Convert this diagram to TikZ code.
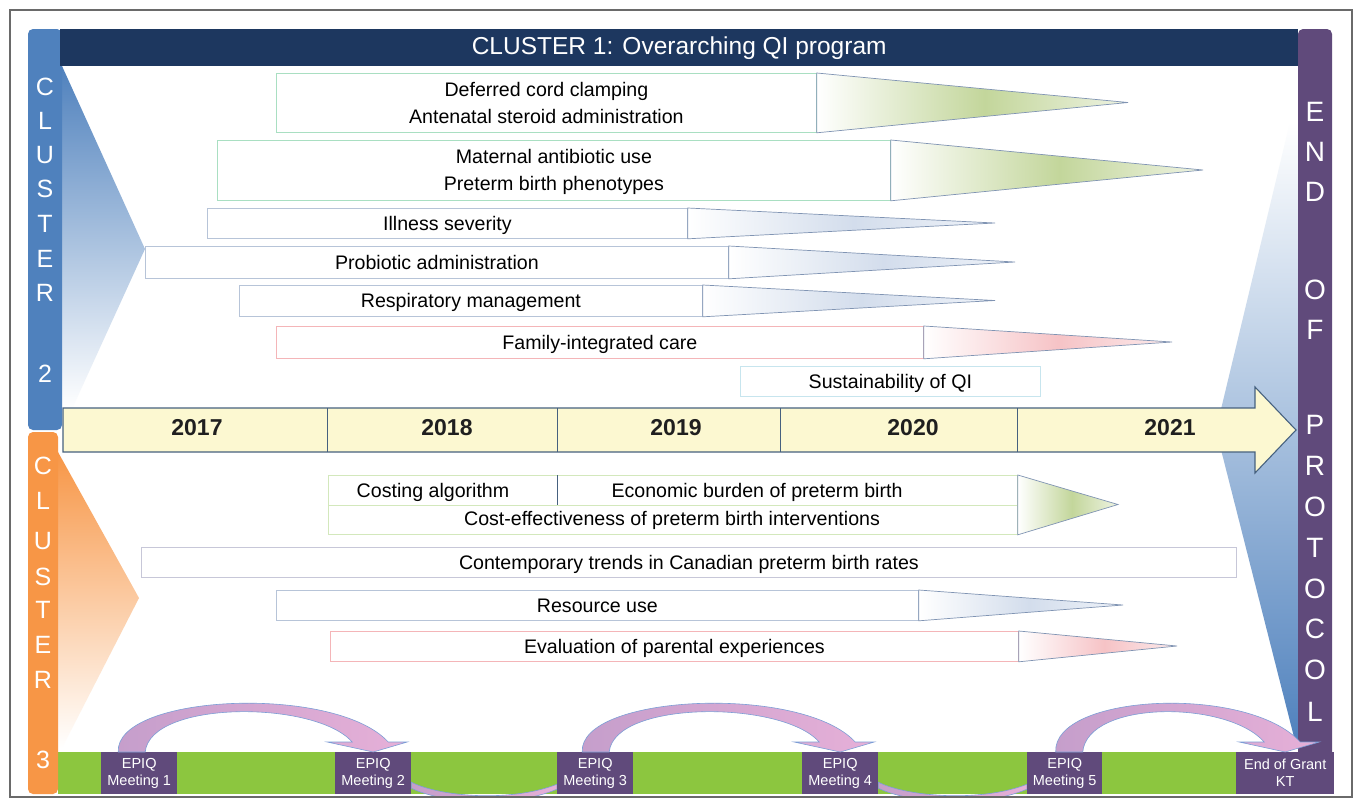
\documentclass[tikz,border=0pt]{standalone}
\usepackage{fontspec}
\setmainfont{Liberation Sans}
\usetikzlibrary{calc}

% palette
\definecolor{navy}{HTML}{1D375F}
\definecolor{cblue}{HTML}{4F81BD}
\definecolor{cbluemid}{HTML}{A6B8DA}
\definecolor{corange}{HTML}{F79646}
\definecolor{corangemid}{HTML}{F8C4A2}
\definecolor{epurple}{HTML}{604A7B}
\definecolor{gbar}{HTML}{8CC63F}
\definecolor{tlfill}{HTML}{FCF8D1}
\definecolor{tlline}{HTML}{46617F}
\definecolor{framegray}{HTML}{6A6A6A}
\definecolor{mintline}{HTML}{A9DFC2}
\definecolor{slateline}{HTML}{B7C4D8}
\definecolor{pinkline}{HTML}{F4B5B8}
\definecolor{cyanline}{HTML}{C7E5EE}
\definecolor{limeline}{HTML}{D3E8BC}
\definecolor{lilacline}{HTML}{C7C7D8}
\definecolor{triline}{HTML}{8094B3}
\definecolor{greenmid}{HTML}{C3D69B}
\definecolor{greentip}{HTML}{EEF3E2}
\definecolor{bluemid}{HTML}{D3DDEC}
\definecolor{bluetip}{HTML}{EFF3F9}
\definecolor{pinkmid}{HTML}{F6C3C6}
\definecolor{pinktip}{HTML}{FCEBEC}
\definecolor{arcA}{HTML}{C59ECB}
\definecolor{arcB}{HTML}{E6B0D8}
\definecolor{arcline}{HTML}{7C9ED6}

% fading wedges: pale at the bar, strongest midway, pale at the point
\pgfdeclarehorizontalshading{greenfade}{100bp}{color(0bp)=(white); color(25bp)=(white); color(52bp)=(greenmid); color(75bp)=(greentip); color(100bp)=(greentip)}
\pgfdeclarehorizontalshading{bluefade}{100bp}{color(0bp)=(white); color(25bp)=(white); color(52bp)=(bluemid); color(75bp)=(bluetip); color(100bp)=(bluetip)}
\pgfdeclarehorizontalshading{pinkfade}{100bp}{color(0bp)=(white); color(25bp)=(white); color(52bp)=(pinkmid); color(75bp)=(pinktip); color(100bp)=(pinktip)}

% drawing layers: page and meeting bar, arcs passing under the meetings, everything else
\pgfdeclarelayer{barlayer}
\pgfdeclarelayer{arclayer}
\pgfsetlayers{barlayer,arclayer,main}

\newcommand\fItem{\fontsize{19.6}{27}\selectfont}
\newcommand\fTitle{\fontsize{24.5}{28}\selectfont}
\newcommand\fYear{\fontsize{23}{26}\selectfont\bfseries}
\newcommand\fClu{\fontsize{25}{28}\selectfont}
\newcommand\fEnd{\fontsize{28}{30}\selectfont}
\newcommand\fMeet{\fontsize{14.5}{17}\selectfont}
% line strut that keeps every label line at the same height and depth
\newcommand\ist{\rule[-4.5pt]{0pt}{22.5pt}}

% arched arrow leaping from one meeting to the next
\newcommand\overArc[3]{%
  \shadedraw[arcstyle]
    ($(#1.north)+(#3,0)$)
    .. controls ($(#1.north)+(#3-3,-58)$) and ($(#2.north)+(-38,-68)$) .. ($(#2.north)+(15,-10)$)
    -- ($(#2.north)+(34,-10)$) -- (#2.north) -- ($(#2.north)+(-46,-10)$) -- ($(#2.north)+(-21,-10)$)
    .. controls ($(#2.north)+(-58,-52)$) and ($(#1.north)+(#3+32,-52)$) .. ($(#1.north)+(#3+27,0)$)
    -- cycle;}
% thin sliver of the arc passing under the bar
\newcommand\underArc[2]{%
  \shadedraw[arcstyle]
    ($(#1.east)+(0,9)$)
    .. controls ($(#1.east)+(30,24)$) and ($(#2.west)+(-45,29)$) .. ($(#2.west)+(0,11)$)
    -- ($(#2.west)+(0,16)$)
    .. controls ($(#2.west)+(-45,35)$) and ($(#1.east)+(30,30)$) .. ($(#1.east)+(0,15)$)
    -- cycle;}

\begin{document}
\begin{tikzpicture}[x=1pt,y=-1pt,
  itembox/.style={draw=#1, line width=0.8pt, fill=white, anchor=north west,
    inner sep=0pt, align=center, font=\fItem},
  tri/.style={shading=#1, draw=triline, line width=0.7pt, line join=miter},
  txt/.style={font=\fItem, inner sep=0pt},
  year/.style={font=\fYear, text=black!88, inner sep=0pt},
  clu/.style={font=\fClu, text=white, inner sep=0pt},
  endl/.style={font=\fEnd, text=white, inner sep=0pt},
  meet/.style={fill=epurple, text=white, font=\fMeet, align=center,
    anchor=north west, inner sep=0pt, minimum height=42pt},
  arcstyle/.style={left color=arcA, right color=arcB, draw=arcline, line width=0.6pt}]

\useasboundingbox (0,0) rectangle (1356,801);
\begin{pgfonlayer}{barlayer}
  \fill[white] (0,0) rectangle (1356,801);
  \fill[gbar] (58,752) rectangle (1333,794);
\end{pgfonlayer}

% ---- funnels fanning out of the side bars
\shade[top color=cblue, middle color=cbluemid, bottom color=white]
  (62,66) -- (145,249) -- (72,409) -- (62,409) -- cycle;
\shade[top color=corange, middle color=corangemid, bottom color=white]
  (58,452) -- (139,598) -- (62,748) -- (58,748) -- cycle;
\shade[top color=white, middle color=cbluemid, bottom color=cblue]
  (1298,122) -- (1290,122) -- (1216,430) -- (1296,745) -- (1298,745) -- cycle;

% ---- cluster 1 activities
\node[itembox=mintline, minimum width=540pt, minimum height=59pt] (b1) at (276,73)
  {\ist Deferred cord clamping\\\ist Antenatal steroid administration};
\coordinate (t1) at (1128,102.5);
\shadedraw[tri=greenfade] (b1.north east) -- (t1) -- (b1.south east) -- cycle;

\node[itembox=mintline, minimum width=673pt, minimum height=60pt] (b2) at (217,140)
  {\ist Maternal antibiotic use\\\ist Preterm birth phenotypes};
\coordinate (t2) at (1203,170);
\shadedraw[tri=greenfade] (b2.north east) -- (t2) -- (b2.south east) -- cycle;

\node[itembox=slateline, minimum width=480pt, minimum height=30pt] (b3) at (207,208)
  {\ist Illness severity};
\coordinate (t3) at (995,223);
\shadedraw[tri=bluefade] (b3.north east) -- (t3) -- (b3.south east) -- cycle;

\node[itembox=slateline, minimum width=583pt, minimum height=32pt] (b4) at (145,246)
  {\ist Probiotic administration};
\coordinate (t4) at (1015,262);
\shadedraw[tri=bluefade] (b4.north east) -- (t4) -- (b4.south east) -- cycle;

\node[itembox=slateline, minimum width=463pt, minimum height=31pt] (b5) at (239,285)
  {\ist Respiratory management};
\coordinate (t5) at (995,300.5);
\shadedraw[tri=bluefade] (b5.north east) -- (t5) -- (b5.south east) -- cycle;

\node[itembox=pinkline, minimum width=647pt, minimum height=32pt] (b6) at (276,326)
  {\ist Family-integrated care};
\coordinate (t6) at (1172,342);
\shadedraw[tri=pinkfade] (b6.north east) -- (t6) -- (b6.south east) -- cycle;

\node[itembox=cyanline, minimum width=300pt, minimum height=30pt] (b7) at (740,366)
  {\ist Sustainability of QI};

% ---- cluster 3 activities
\node[itembox=limeline, minimum width=689pt, minimum height=59pt] (b8) at (328,475) {};
\draw[limeline, line width=0.8pt] (b8.west) -- (b8.east);
\draw[tlline, line width=0.6pt] ($(b8.north west)+(229,0)$) -- ($(b8.west)+(229,0)$);
\node[txt] (cost) at (433,490.5) {\ist Costing algorithm};
\node[txt] (econ) at (757,490.5) {\ist Economic burden of preterm birth};
\node[txt] (ceff) at (672,519) {\ist Cost-effectiveness of preterm birth interventions};
\coordinate (t8) at (1118,504.5);
\shadedraw[tri=greenfade] (b8.north east) -- (t8) -- (b8.south east) -- cycle;

\node[itembox=lilacline, minimum width=1095pt, minimum height=30pt] (b9) at (141,547)
  {\ist Contemporary trends in Canadian preterm birth rates};

\node[itembox=slateline, minimum width=642pt, minimum height=30pt] (b10) at (276,590)
  {\ist Resource use};
\coordinate (t10) at (1123,605);
\shadedraw[tri=bluefade] (b10.north east) -- (t10) -- (b10.south east) -- cycle;

\node[itembox=pinkline, minimum width=688pt, minimum height=30pt] (b11) at (330,631)
  {\ist Evaluation of parental experiences};
\coordinate (t11) at (1177,646);
\shadedraw[tri=pinkfade] (b11.north east) -- (t11) -- (b11.south east) -- cycle;

% ---- timeline arrow
\draw[tlline, fill=tlfill, line width=1.1pt, line join=miter]
  (63,408) -- (1255,408) -- (1255,387) -- (1296,430) -- (1255,473) -- (1255,452) -- (63,452) -- cycle;
\foreach \xx in {327,557,780,1017}
  \draw[tlline, line width=0.8pt] (\xx,408) -- (\xx,452);
\node[year] (y2017) at (197,428) {2017};
\node[year] (y2018) at (447,428) {2018};
\node[year] (y2019) at (676,428) {2019};
\node[year] (y2020) at (913,428) {2020};
\node[year] (y2021) at (1170,428) {2021};

% ---- side bars and title bar
\fill[cblue, rounded corners=5pt] (28,29) rectangle (62,430);
\fill[corange, rounded corners=5pt] (28,432) rectangle (58,794);
\fill[epurple, rounded corners=5pt] (1298,29) rectangle (1332,760);
\node[fill=navy, text=white, font=\fTitle, anchor=north west, inner sep=0pt,
  minimum width=1238pt, minimum height=37pt] (title) at (60,29)
  {CLUSTER 1: Overarching QI program};

\foreach \ch/\yy [count=\i] in {C/87,L/121,U/155,S/189,T/224,E/259,R/293,2/374}
  \node[clu] (ca\i) at (45,\yy) {\ch};
\foreach \ch/\yy [count=\i] in {C/466,L/501,U/541,S/577,T/610,E/645,R/680,3/760}
  \node[clu] (cb\i) at (43,\yy) {\ch};
\foreach \ch/\yy [count=\i] in {E/112,N/152,D/192,O/290,F/330,P/425,R/466,O/507,T/548,O/589,C/629,O/670,L/712}
  \node[endl] (ep\i) at (1315,\yy) {\ch};

% ---- meetings
\node[meet, minimum width=76pt] (m1) at (101,752) {EPIQ\\Meeting 1};
\node[meet, minimum width=76pt] (m2) at (335,752) {EPIQ\\Meeting 2};
\node[meet, minimum width=76pt] (m3) at (557,752) {EPIQ\\Meeting 3};
\node[meet, minimum width=76pt] (m4) at (802,752) {EPIQ\\Meeting 4};
\node[meet, minimum width=75pt] (m5) at (1027,752) {EPIQ\\Meeting 5};
\node[meet, minimum width=98pt] (mend) at (1236,752) {End of Grant\\KT};

% arcs dipping under the bar, partly hidden by the meeting boxes
\begin{pgfonlayer}{arclayer}
  \begin{scope}
    \clip (11,11) rectangle (1351,796);
    \underArc{m2}{m3}
    \underArc{m4}{m5}
  \end{scope}
\end{pgfonlayer}

\overArc{m1}{m2}{-21}
\overArc{m3}{m4}{-13}
\overArc{m5}{mend}{-9}

% ---- outer frame
\draw[framegray, line width=1.4pt] (10,10) rectangle (1352,797);
\end{tikzpicture}
\end{document}
